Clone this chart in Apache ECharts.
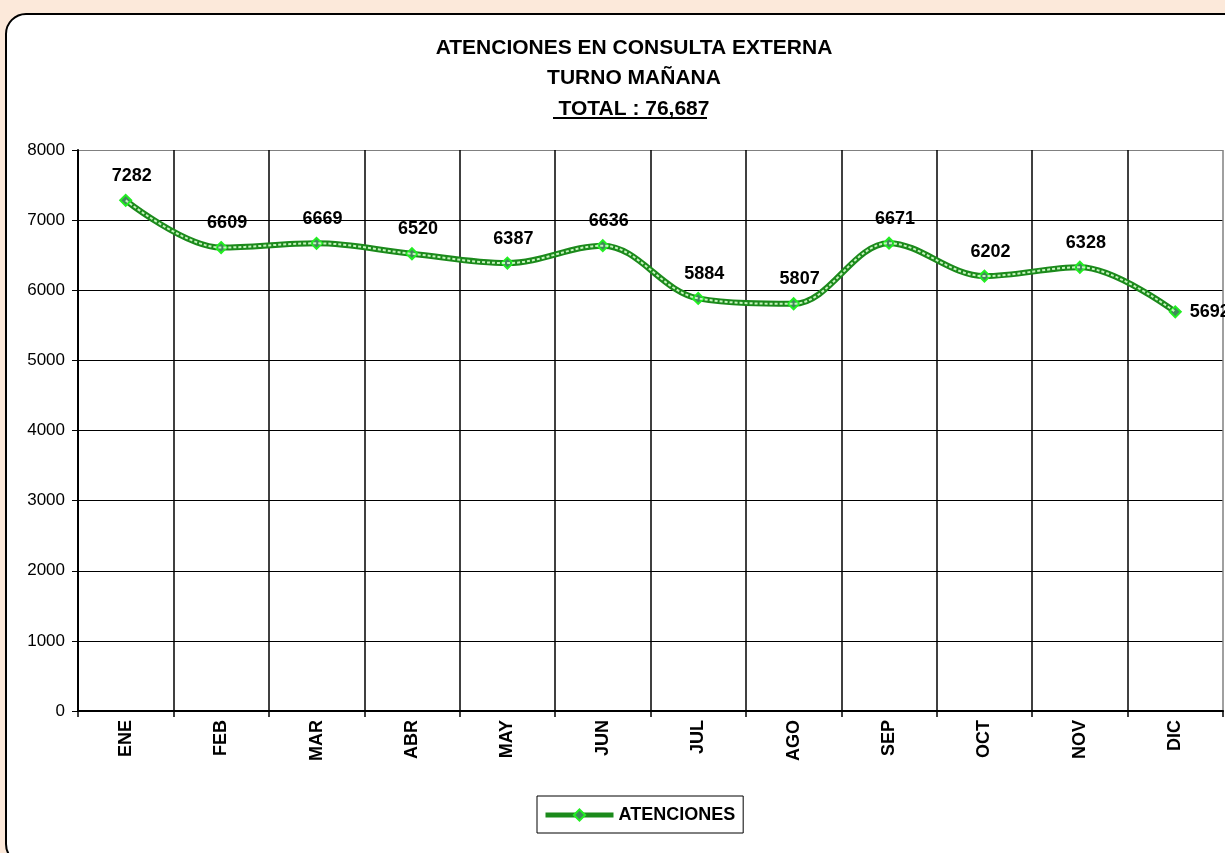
<!DOCTYPE html>
<html>
<head>
<meta charset="utf-8">
<title>Atenciones en consulta externa</title>
<script src="https://cdn.jsdelivr.net/npm/echarts@6/dist/echarts.min.js"></script>
<style>
	html, body { margin: 0; padding: 0; background: #fce9da; }
	#main { width: 1225px; height: 853px; }
</style>
</head>
<body>
<div id="main"></div>
<script>
"use strict";

var meses = ['ENE', 'FEB', 'MAR', 'ABR', 'MAY', 'JUN', 'JUL', 'AGO', 'SEP', 'OCT', 'NOV', 'DIC'];
var atenciones = [7282, 6609, 6669, 6520, 6387, 6636, 5884, 5807, 6671, 6202, 6328, 5692];
var yTicks = [0, 1000, 2000, 3000, 4000, 5000, 6000, 7000, 8000];
var serieNombre = 'ATENCIONES';
var titulos = ['ATENCIONES EN CONSULTA EXTERNA', 'TURNO MAÑANA', 'TOTAL : 76,687'];

var font = 'Arial, "Liberation Sans", sans-serif';
var chart = echarts.init(document.getElementById('main'));

// last point has its label on the right, like the original
var puntos = [];
for (var i = 0, len = atenciones.length; i < len; i++) {
	if (i === len - 1) {
		puntos.push({value: atenciones[i], label: {position: 'right', distance: 8, offset: [0, 0]}});
	} else {
		puntos.push(atenciones[i]);
	}
}

var hColors = [];
for (var h = 0; h < yTicks.length; h++) {
	hColors.push(h === yTicks.length - 1 ? '#808080' : '#000');
}
var vColors = [];
for (var v = 0; v <= meses.length; v++) {
	vColors.push(v === meses.length ? '#808080' : '#000');
}

function titulo(txt, top) {
	return {
		text: txt, left: 629, top: top, textAlign: 'center',
		textStyle: {fontSize: 21, fontWeight: 'bold', color: '#000', fontFamily: font}
	};
}

var option = {
	backgroundColor: 'transparent',
	textStyle: {fontFamily: font},
	animation: false,
	title: [
		titulo(titulos[0], 33),
		titulo(titulos[1], 63),
		titulo(titulos[2], 94)
	],
	graphic: [
		{
			type: 'rect', z: -10,
			shape: {x: 6, y: 14, width: 1270, height: 850, r: 20},
			style: {fill: '#fff', stroke: '#000', lineWidth: 2}
		},
		{
			type: 'line', z: 10,
			shape: {x1: 553, y1: 118, x2: 707, y2: 118},
			style: {stroke: '#000', lineWidth: 2}
		}
	],
	legend: {
		data: [serieNombre],
		left: 537, top: 796,
		padding: [10, 8, 9, 6],
		borderColor: '#000',
		borderWidth: 1,
		itemWidth: 68,
		itemHeight: 14,
		itemGap: 2,
		lineStyle: {width: 5},
		textStyle: {fontSize: 18, fontWeight: 'bold', color: '#000', fontFamily: font}
	},
	grid: {
		left: 78, right: 2, top: 150, bottom: 142,
		containLabel: false,
		outerBoundsMode: 'none'
	},
	xAxis: {
		type: 'category',
		data: meses,
		boundaryGap: true,
		axisLine: {lineStyle: {color: '#000', width: 2}},
		axisTick: {show: true, length: 6, inside: false, alignWithLabel: false, lineStyle: {color: '#000', width: 1.5}},
		axisLabel: {rotate: 90, margin: 9, fontSize: 18, fontWeight: 'bold', color: '#000', fontFamily: font, interval: 0},
		splitLine: {show: true, interval: 0, lineStyle: {color: vColors, width: 1.5}}
	},
	yAxis: {
		type: 'value',
		min: yTicks[0],
		max: yTicks[yTicks.length - 1],
		interval: yTicks[1] - yTicks[0],
		axisLine: {show: true, lineStyle: {color: '#000', width: 2}},
		axisTick: {show: true, length: 6, lineStyle: {color: '#000', width: 1}},
		axisLabel: {fontSize: 17, color: '#000', margin: 13, fontFamily: font, formatter: function (val) { return String(val); }},
		splitLine: {show: true, lineStyle: {color: hColors, width: 1.2}}
	},
	series: [
		{
			name: serieNombre,
			type: 'line',
			smooth: 0.35,
			data: puntos,
			z: 3,
			symbol: 'diamond',
			symbolSize: 11,
			lineStyle: {color: '#1b8a1b', width: 6},
			itemStyle: {color: '#3f8a5a', borderColor: '#22ee22', borderWidth: 2},
			label: {
				show: true,
				position: 'top',
				distance: 9,
				offset: [6, 0],
				fontSize: 18,
				fontWeight: 'bold',
				color: '#000',
				fontFamily: font
			}
		},
		{
			name: serieNombre + '_trama',
			type: 'line',
			smooth: 0.35,
			data: atenciones,
			z: 4,
			symbol: 'none',
			silent: true,
			lineStyle: {color: '#c4f4bc', width: 2, type: [3, 2]}
		}
	]
};

chart.setOption(option);
</script>
</body>
</html>
